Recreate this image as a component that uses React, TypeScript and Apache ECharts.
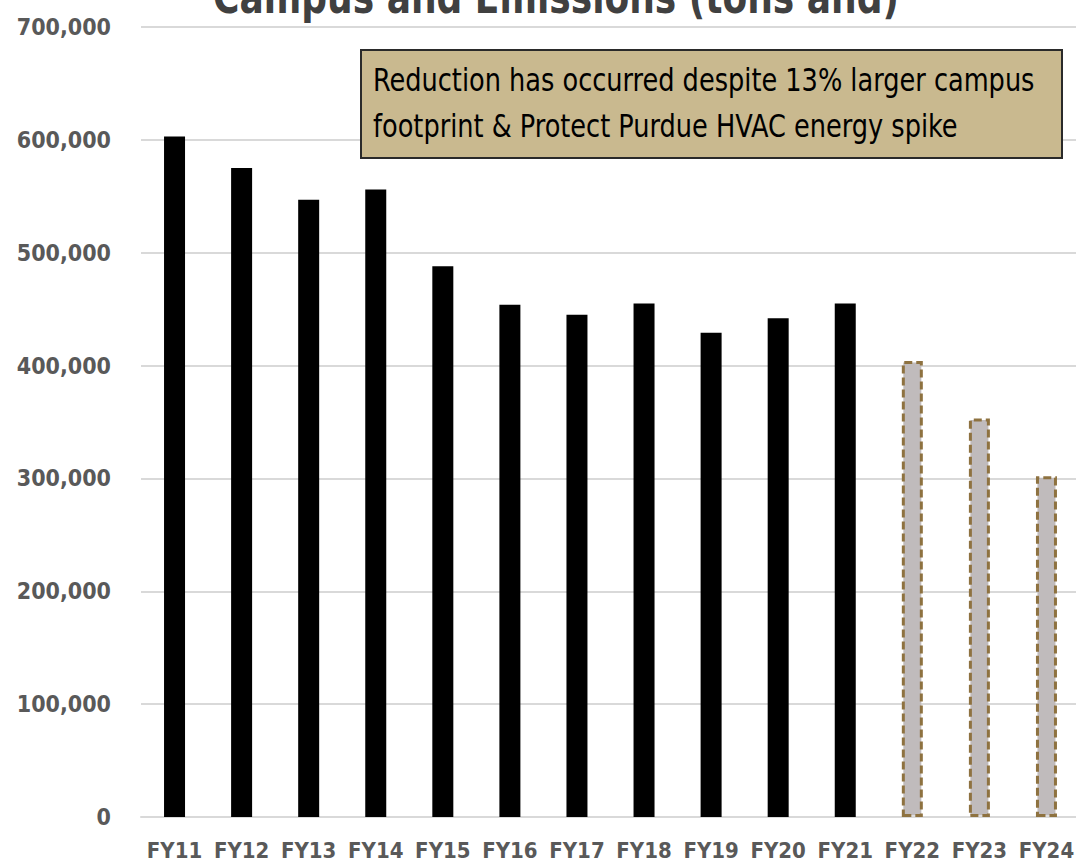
import React, { useEffect, useRef } from "react";
import * as echarts from "echarts";

const categories = ["FY11", "FY12", "FY13", "FY14", "FY15", "FY16", "FY17", "FY18", "FY19", "FY20", "FY21", "FY22", "FY23", "FY24"];
const actualValues = [603000, 575000, 547000, 556000, 488000, 454000, 445000, 455000, 429000, 442000, 455000, null, null, null];
const projectedValues = [null, null, null, null, null, null, null, null, null, null, null, 404000, 353000, 302000];
const titleText = "Campus and Emissions (tons and)";
const noteLines = ["Reduction has occurred despite 13% larger campus", "footprint & Protect Purdue HVAC energy spike"];

const FONT = "'DejaVu Sans Condensed', 'Liberation Sans Narrow', 'Roboto', sans-serif";

export default function App() {
  const ref = useRef<HTMLDivElement>(null);
  useEffect(() => {
    if (!ref.current) return;
    const chart = echarts.init(ref.current, null, { renderer: "svg" });
    chart.setOption({
      animation: false,
      backgroundColor: "#ffffff",
      grid: { left: 141, right: -4, top: 27, bottom: 50, containLabel: false, outerBoundsMode: "none" },
      xAxis: {
        type: "category",
        data: categories,
        axisLine: { show: true, lineStyle: { color: "#D9D9D9", width: 2 } },
        axisTick: { show: false },
        axisLabel: { color: "#595959", fontFamily: FONT, fontSize: 22, fontWeight: "bold", margin: 22, interval: 0 },
      },
      yAxis: {
        type: "value",
        min: 0,
        max: 700000,
        interval: 100000,
        axisLine: { show: false },
        axisTick: { show: false },
        splitLine: { lineStyle: { color: "#D9D9D9", width: 2 } },
        axisLabel: {
          color: "#595959",
          fontFamily: FONT,
          fontSize: 23,
          fontWeight: "bold",
          margin: 30,
          formatter: (v: number) => v.toLocaleString("en-US"),
        },
      },
      series: [
        {
          type: "bar",
          data: actualValues,
          barWidth: 21,
          barGap: "-100%",
          itemStyle: { color: "#000000" },
        },
        {
          type: "bar",
          data: projectedValues,
          barWidth: 21,
          barGap: "-100%",
          itemStyle: { color: "#C0BBBC", borderColor: "#8E7240", borderWidth: 3, borderType: [8, 4] },
        },
      ],
      graphic: [
        {
          type: "text",
          x: 556,
          y: -26,
          z: 100,
          scaleX: 0.87,
          style: { text: titleText, fill: "#404040", font: `bold 46px ${FONT}`, textAlign: "center" },
        },
        {
          type: "rect",
          z: 100,
          shape: { x: 361, y: 50, width: 701, height: 108 },
          style: { fill: "#C9B98F", stroke: "#2a2a2a", lineWidth: 2 },
        },
        {
          type: "text",
          z: 101,
          x: 373,
          y: 57,
          scaleX: 0.89,
          style: { text: noteLines.join("\n"), fill: "#000000", font: `32px ${FONT}`, lineHeight: 46 },
        },
      ],
    });
    return () => chart.dispose();
  }, []);
  return <div ref={ref} style={{ position: "fixed", left: 0, top: 0, width: 1076, height: 867 }} />;
}
